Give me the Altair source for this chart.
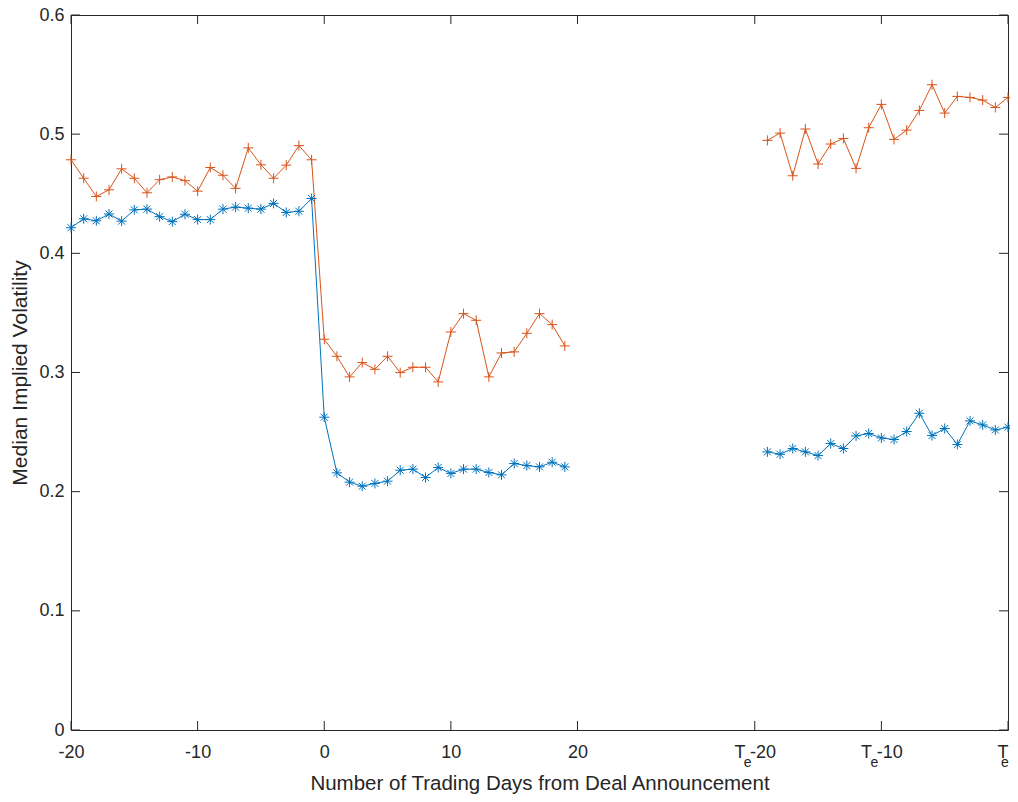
import altair as alt
import pandas as pd

TE = 54  # position of T_e on the axis
early_days = list(range(-20, 20))
late_days = list(range(TE - 19, TE + 1))

orange_early = [0.4785, 0.4630, 0.4477, 0.4533, 0.4709, 0.4630, 0.4508, 0.4618, 0.4641, 0.4610,
                0.4522, 0.4720, 0.4655, 0.4545, 0.4885, 0.4743, 0.4630, 0.4740, 0.4904, 0.4785,
                0.3279, 0.3136, 0.2963, 0.3083, 0.3027, 0.3136, 0.2999, 0.3044, 0.3044, 0.2921,
                0.3340, 0.3494, 0.3438, 0.2963, 0.3164, 0.3173, 0.3329, 0.3494, 0.3402, 0.3223]
blue_early = [0.4215, 0.4290, 0.4273, 0.4330, 0.4270, 0.4365, 0.4371, 0.4308, 0.4266, 0.4328,
              0.4283, 0.4283, 0.4371, 0.4388, 0.4379, 0.4371, 0.4419, 0.4343, 0.4353, 0.4460,
              0.2625, 0.2158, 0.2080, 0.2046, 0.2069, 0.2088, 0.2180, 0.2189, 0.2119, 0.2203,
              0.2153, 0.2189, 0.2189, 0.2161, 0.2141, 0.2236, 0.2219, 0.2208, 0.2247, 0.2208]
orange_late = [0.4948, 0.5009, 0.4651, 0.5043, 0.4749, 0.4917, 0.4964, 0.4713, 0.5054, 0.5250,
               0.4956, 0.5034, 0.5199, 0.5415, 0.5177, 0.5317, 0.5308, 0.5286, 0.5224, 0.5308]
blue_late = [0.2334, 0.2314, 0.2362, 0.2334, 0.2303, 0.2404, 0.2362, 0.2468, 0.2488, 0.2451,
             0.2438, 0.2505, 0.2658, 0.2471, 0.2530, 0.2396, 0.2594, 0.2560, 0.2518, 0.2541]

x_ticks = [-20, -10, 0, 10, 20, 34, 44, 54]
y_ticks = [0, 0.1, 0.2, 0.3, 0.4, 0.5, 0.6]
te_ticks_offset = [34, 44]   # "T_e-20", "T_e-10"
te_tick_end = [54]           # "T_e"

rows = []
for name, seg, days, vals in [("s1", "a", early_days, blue_early),
                              ("s1", "b", late_days, blue_late),
                              ("s2", "a", early_days, orange_early),
                              ("s2", "b", late_days, orange_late)]:
    for d, v in zip(days, vals):
        rows.append({"x": d, "v": v, "series": name, "seg": name + seg})
df = pd.DataFrame(rows)

W, H = 937, 715
AX = "#262626"
FONT = "Liberation Sans"
BLUE, ORANGE = "#0072BD", "#D95319"
STAR = "M-1,0L1,0M0,-1L0,1M-0.7,-0.7L0.7,0.7M-0.7,0.7L0.7,-0.7"
PLUS = "M-1,0L1,0M0,-1L0,1"

xscale = alt.Scale(domain=[-20, 54], nice=False, zero=False)
yscale = alt.Scale(domain=[0, 0.6], nice=False, zero=False)

xaxis = alt.Axis(values=x_ticks, grid=False, domain=False, ticks=False, tickSize=0,
                 labelFlush=False, labelOverlap=False, labelPadding=27, labelBaseline="alphabetic",
                 labelAlign={"condition": {"test": "datum.value == 54", "value": "right"}, "value": "center"},
                 labelExpr="datum.value == 34 ? 'T  -20' : datum.value == 44 ? 'T  -10' : datum.value == 54 ? 'T' : replace(datum.label, '\u2212', '-')",
                 title="Number of Trading Days from Deal Announcement",
                 titleBaseline="alphabetic", titleY=59, titleFontSize=20.5)
yaxis = alt.Axis(values=y_ticks, grid=False, domain=False, ticks=False, tickSize=0,
                 labelPadding=7,
                 labelExpr="datum.value == 0 ? '0' : format(datum.value, '.1f')",
                 title="Median Implied Volatility",
                 titleBaseline="alphabetic", titleX=-45, titleFontSize=21)

X = alt.X("x:Q", scale=xscale, axis=xaxis)
Y = alt.Y("v:Q", scale=yscale, axis=yaxis)
color = alt.Color("series:N", scale=alt.Scale(domain=["s1", "s2"], range=[BLUE, ORANGE]), legend=None)
shape = alt.Shape("series:N", scale=alt.Scale(domain=["s1", "s2"], range=[STAR, PLUS]), legend=None)

base = alt.Chart(df)
lines = base.mark_line(strokeWidth=1).encode(x=X, y=Y, color=color, detail="seg:N", order="x:Q")
points = base.mark_point(filled=False, strokeWidth=1, size=100, opacity=1).encode(x=X, y=Y, color=color, shape=shape)

xt = pd.DataFrame({"x": x_ticks})
yt = pd.DataFrame({"v": y_ticks})
tick_bottom = alt.Chart(xt).mark_rule(color=AX, strokeWidth=1).encode(x=X, y=alt.value(H), y2=alt.value(H - 9))
tick_top = alt.Chart(xt).mark_rule(color=AX, strokeWidth=1).encode(x=X, y=alt.value(0), y2=alt.value(9))
tick_left = alt.Chart(yt).mark_rule(color=AX, strokeWidth=1).encode(y=Y, x=alt.value(0), x2=alt.value(9))
tick_right = alt.Chart(yt).mark_rule(color=AX, strokeWidth=1).encode(y=Y, x=alt.value(W - 9), x2=alt.value(W))

# subscript "e" of the T_e tick labels
sub_mid = alt.Chart(pd.DataFrame({"x": te_ticks_offset, "t": ["e"] * len(te_ticks_offset)})).mark_text(
    font=FONT, fontSize=14, color=AX, align="center", baseline="alphabetic", dx=-7
).encode(x=X, y=alt.value(H + 37), text="t:N")
sub_end = alt.Chart(pd.DataFrame({"x": te_tick_end, "t": ["e"]})).mark_text(
    font=FONT, fontSize=14, color=AX, align="center", baseline="alphabetic", dx=-3
).encode(x=X, y=alt.value(H + 37), text="t:N")

chart = alt.layer(lines, points, tick_bottom, tick_top, tick_left, tick_right, sub_mid, sub_end).properties(
    width=W, height=H,
    autosize=alt.AutoSizeParams(type="none"),
    padding={"left": 63, "top": 7, "right": 2, "bottom": 64},
).configure_view(stroke=AX, strokeWidth=1).configure_axis(
    labelFont=FONT, titleFont=FONT, labelColor=AX, titleColor=AX,
    labelFontSize=18, titleFontWeight="normal",
)

chart.save("out.html", embed_options={"renderer": "svg", "actions": False})
